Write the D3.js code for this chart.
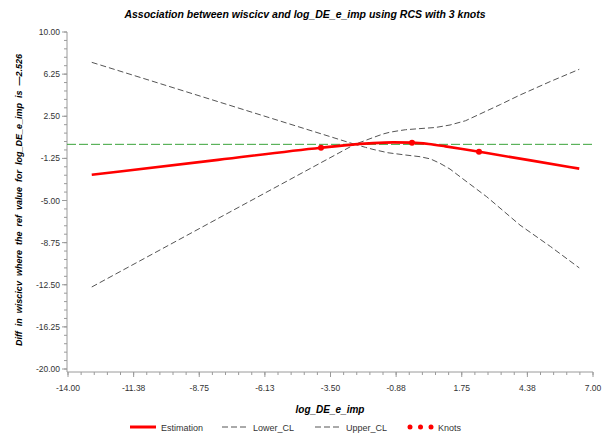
<!DOCTYPE html>
<html><head><meta charset="utf-8">
<script src="https://cdn.jsdelivr.net/npm/d3@7"></script>
<style>body{margin:0;background:#fff}svg{display:block}text{font-family:"Liberation Sans",Arial,sans-serif}</style>
</head><body><svg id="c" width="607" height="441"></svg>
<script>
const estX = [-13.05, -8.0, -3.88, -2.526, -1.8, -1.0, -0.24, 0.43, 1.10, 1.77, 2.44, 4.5, 6.45];
const estY = [-2.71, -1.38, -0.30, 0.0, 0.11, 0.17, 0.15, 0.03, -0.18, -0.41, -0.66, -1.43, -2.16];
const lowX = [-13.05, -8.0, -2.526, -2.1, -1.8, -1.2, -0.5, 0.08, 0.5, 0.88, 1.28, 1.68, 2.2, 2.75, 3.4, 4.08, 5.3, 6.45];
const lowY = [-12.70, -6.60, 0.0, -0.27, -0.45, -0.75, -0.95, -1.10, -1.30, -1.69, -2.20, -2.88, -3.75, -4.67, -5.90, -7.19, -9.10, -11.0];
const uppX = [-13.05, -8.0, -2.526, -2.1, -1.8, -1.4, -1.12, -0.8, -0.5, 0.08, 0.7, 1.28, 1.9, 2.48, 3.3, 4.08, 5.3, 6.45];
const uppY = [7.30, 3.80, 0.0, 0.35, 0.60, 0.92, 1.08, 1.20, 1.30, 1.40, 1.50, 1.72, 2.10, 2.70, 3.55, 4.39, 5.60, 6.68];
const knotX = [-3.88, -0.24, 2.44];
const knotY = [-0.30, 0.15, -0.66];
const xTicks = [-14.00, -11.38, -8.75, -6.13, -3.50, -0.88, 1.75, 4.38, 7.00];
const yTicks = [10.00, 6.25, 2.50, -1.25, -5.00, -8.75, -12.50, -16.25, -20.00];
const refY = 0;

const svg = d3.select("#c");
const x = d3.scaleLinear().domain([-14, 7]).range([68, 593]);
const y = d3.scaleLinear().domain([-20, 10]).range([369, 32]);
const axisCol = "#9a9a9a", txtCol = "#333";

svg.append("line").attr("x1", 67).attr("x2", 67).attr("y1", 32).attr("y2", 372).attr("stroke", axisCol);
svg.append("line").attr("x1", 67).attr("x2", 593).attr("y1", 372).attr("y2", 372).attr("stroke", axisCol);

const xMinor = d3.range(0, 41).map(i => -14 + i * 0.525);
svg.selectAll(".xm").data(xMinor).join("line")
  .attr("x1", d => x(d)).attr("x2", d => x(d)).attr("y1", 372).attr("y2", 375).attr("stroke", axisCol);
svg.selectAll(".xM").data(xTicks).join("line")
  .attr("x1", (d, i) => x(-14 + i * 2.625)).attr("x2", (d, i) => x(-14 + i * 2.625))
  .attr("y1", 372).attr("y2", 377).attr("stroke", axisCol);
svg.selectAll(".xl").data(xTicks).join("text")
  .attr("x", (d, i) => x(-14 + i * 2.625)).attr("y", 391).attr("text-anchor", "middle")
  .attr("font-size", 8.5).attr("fill", txtCol).text(d => d.toFixed(2));

const yMinor = d3.range(0, 41).map(i => -20 + i * 0.75);
svg.selectAll(".ym").data(yMinor).join("line")
  .attr("x1", 64).attr("x2", 67).attr("y1", d => y(d)).attr("y2", d => y(d)).attr("stroke", axisCol);
svg.selectAll(".yM").data(yTicks).join("line")
  .attr("x1", 62).attr("x2", 67).attr("y1", d => y(d)).attr("y2", d => y(d)).attr("stroke", axisCol);
svg.selectAll(".yl").data(yTicks).join("text")
  .attr("x", 60).attr("y", d => y(d) + 3).attr("text-anchor", "end")
  .attr("font-size", 8.5).attr("fill", txtCol).text(d => d.toFixed(2));

svg.append("line").attr("x1", 67).attr("x2", 593).attr("y1", y(refY)).attr("y2", y(refY))
  .attr("stroke", "#3aa33a").attr("stroke-width", 1).attr("stroke-dasharray", "9,3");

const smooth = d3.line().x(d => x(d[0])).y(d => y(d[1])).curve(d3.curveMonotoneX);
const straight = d3.line().x(d => x(d[0])).y(d => y(d[1]));
const zip = (a, b) => a.map((v, i) => [v, b[i]]);

svg.append("path").attr("d", straight(zip(lowX, lowY))).attr("fill", "none")
  .attr("stroke", "#555").attr("stroke-width", 1).attr("stroke-dasharray", "6,3");
svg.append("path").attr("d", straight(zip(uppX, uppY))).attr("fill", "none")
  .attr("stroke", "#555").attr("stroke-width", 1).attr("stroke-dasharray", "6,3");
svg.append("path").attr("d", smooth(zip(estX, estY))).attr("fill", "none")
  .attr("stroke", "#ff0000").attr("stroke-width", 2.6);
svg.selectAll(".knot").data(zip(knotX, knotY)).join("circle")
  .attr("cx", d => x(d[0])).attr("cy", d => y(d[1])).attr("r", 3).attr("fill", "#ff0000");

svg.append("text").attr("x", 305).attr("y", 18).attr("text-anchor", "middle")
  .attr("font-size", 10.5).attr("font-weight", "bold").attr("font-style", "italic").attr("fill", "#000")
  .text("Association between wiscicv and log_DE_e_imp using RCS with 3 knots");
svg.append("text").attr("x", 330).attr("y", 413).attr("text-anchor", "middle")
  .attr("font-size", 10).attr("font-weight", "bold").attr("font-style", "italic").attr("fill", "#000")
  .text("log_DE_e_imp");
svg.append("text").attr("transform", "translate(22,200) rotate(-90)").attr("text-anchor", "middle")
  .attr("font-size", 9).attr("font-weight", "bold").attr("font-style", "italic").attr("fill", "#000")
  .attr("word-spacing", 2.5)
  .text("Diff in wiscicv where the ref value for log_DE_e_imp is —2.526");

const ly = 427;
const lg = svg.append("g");
lg.append("line").attr("x1", 130).attr("x2", 156).attr("y1", ly).attr("y2", ly).attr("stroke", "#ff0000").attr("stroke-width", 3);
lg.append("text").attr("x", 161).attr("y", ly + 3.5).attr("font-size", 9).attr("fill", txtCol).text("Estimation");
lg.append("line").attr("x1", 222).attr("x2", 248).attr("y1", ly).attr("y2", ly).attr("stroke", "#555").attr("stroke-dasharray", "6,3");
lg.append("text").attr("x", 253).attr("y", ly + 3.5).attr("font-size", 9).attr("fill", txtCol).text("Lower_CL");
lg.append("line").attr("x1", 315).attr("x2", 341).attr("y1", ly).attr("y2", ly).attr("stroke", "#555").attr("stroke-dasharray", "6,3");
lg.append("text").attr("x", 346).attr("y", ly + 3.5).attr("font-size", 9).attr("fill", txtCol).text("Upper_CL");
[410, 420.5, 431].forEach(cx => lg.append("circle").attr("cx", cx).attr("cy", ly).attr("r", 2.5).attr("fill", "#ff0000"));
lg.append("text").attr("x", 438).attr("y", ly + 3.5).attr("font-size", 9).attr("fill", txtCol).text("Knots");
</script></body></html>
